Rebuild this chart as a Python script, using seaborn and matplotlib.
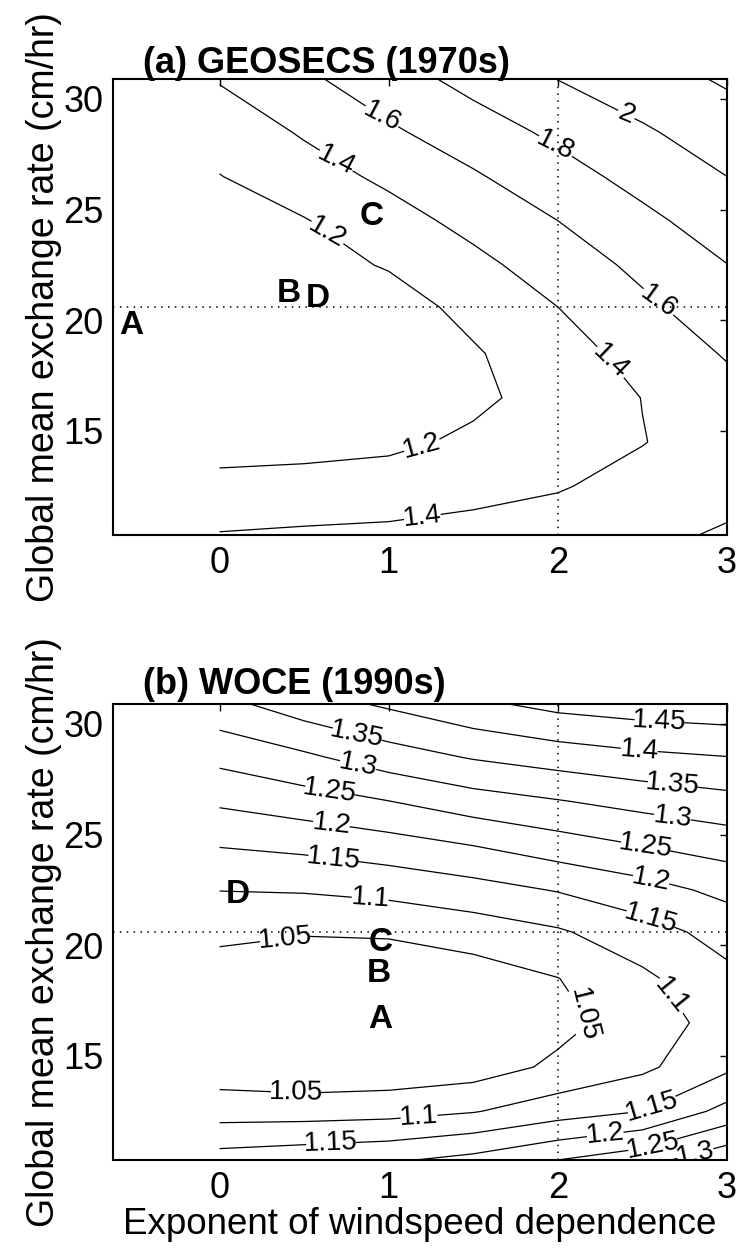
import numpy as np
import matplotlib
matplotlib.use("Agg")
import matplotlib.pyplot as plt
import seaborn as sns

# ---------------- data ----------------
exponent = [0.0, 0.5, 1.0, 1.5, 2.0, 2.5, 3.0]                 # x grid
exchange_rate = [10.3, 12.5, 14.5, 16.5, 18.5, 20.6, 22.5, 24.5, 26.5, 28.5, 31.0]  # y grid

# (a) GEOSECS ratio, one row per exchange rate
geosecs_103 = [1.41, 1.428, 1.44, 1.46, 1.471, 1.56, 1.62]
geosecs_125 = [1.26, 1.273, 1.294, 1.344, 1.389, 1.45, 1.542]
geosecs_145 = [1.115, 1.13, 1.157, 1.237, 1.316, 1.395, 1.475]
geosecs_165 = [1.06, 1.07, 1.10, 1.159, 1.28, 1.403, 1.53]
geosecs_185 = [1.05, 1.065, 1.10, 1.18, 1.321, 1.466, 1.617]
geosecs_206 = [1.06, 1.08, 1.115, 1.257, 1.40, 1.561, 1.712]
geosecs_225 = [1.08, 1.13, 1.215, 1.349, 1.494, 1.646, 1.797]
geosecs_245 = [1.12, 1.19, 1.323, 1.459, 1.60, 1.754, 1.898]
geosecs_265 = [1.195, 1.315, 1.44, 1.578, 1.724, 1.865, 2.0]
geosecs_285 = [1.28, 1.42, 1.57, 1.705, 1.84, 1.975, 2.10]
geosecs_310 = [1.42, 1.57, 1.72, 1.87, 2.01, 2.12, 2.23]

# (b) WOCE ratio, one row per exchange rate
woce_103 = [1.172, 1.183, 1.193, 1.215, 1.25, 1.281, 1.337]
woce_125 = [1.078, 1.078, 1.0825, 1.097, 1.127, 1.15, 1.216]
woce_145 = [1.021, 1.01, 1.014, 1.025, 1.06, 1.09, 1.14]
woce_165 = [1.015, 1.005, 1.005, 1.01, 1.035, 1.075, 1.12]
woce_185 = [1.022, 1.01, 1.01, 1.025, 1.049, 1.09, 1.138]
woce_206 = [1.063, 1.054, 1.057, 1.073, 1.094, 1.13, 1.168]
woce_225 = [1.101, 1.104, 1.114, 1.131, 1.153, 1.18, 1.2135]
woce_245 = [1.152, 1.162, 1.179, 1.20, 1.227, 1.25, 1.271]
woce_265 = [1.208, 1.228, 1.249, 1.278, 1.297, 1.317, 1.334]
woce_285 = [1.264, 1.291, 1.327, 1.354, 1.373, 1.389, 1.399]
woce_310 = [1.338, 1.381, 1.411, 1.443, 1.469, 1.481, 1.487]

geosecs_levels = [1.2, 1.4, 1.6, 1.8, 2.0, 2.2]
woce_levels = [1.05, 1.10, 1.15, 1.20, 1.25, 1.30, 1.35, 1.40, 1.45]

# reference lines
ref_exponent = 2.0
ref_rate = 20.6

# lettered points
letters = ["A", "B", "C", "D"]
geosecs_letter_x = [-0.525, 0.41, 0.90, 0.578]
geosecs_letter_y = [19.78, 21.21, 24.68, 20.98]
woce_letter_x = [0.95, 0.94, 0.95, 0.11]
woce_letter_y = [16.66, 18.72, 20.12, 22.31]

titles = ["(a) GEOSECS (1970s)", "(b) WOCE (1990s)"]
x_ticks = [0, 1, 2, 3]
y_ticks = [15, 20, 25, 30]

# contour label placement (near these points)
geosecs_label_pos = [(0.95, 29.04), (1.98, 27.76), (2.40, 29.19), (0.69, 27.23),
                     (0.63, 23.84), (2.60, 20.9), (2.32, 18.19), (1.20, 14.2),
                     (1.20, 11.04)]
woce_label_pos = [(2.60, 30.06), (2.48, 28.70), (0.81, 29.38), (2.68, 27.33),
                  (0.81, 27.7), (2.68, 25.98), (0.65, 26.82), (2.52, 24.53),
                  (0.66, 25.39), (2.55, 22.9), (0.67, 23.81), (2.55, 21.25),
                  (0.89, 22.08), (0.386, 20.27), (2.15, 16.8), (2.68, 17.79),
                  (0.45, 13.27), (1.18, 12.14), (0.66, 10.93), (2.55, 12.89),
                  (2.28, 11.46), (2.56, 11.0), (2.81, 10.7)]

# ---------------- style ----------------
sns.set_theme(style="white", rc={
    "axes.edgecolor": "black",
    "axes.linewidth": 1.5,
    "xtick.direction": "in",
    "ytick.direction": "in",
    "xtick.top": True,
    "ytick.right": True,
    "xtick.major.size": 5,
    "ytick.major.size": 5,
    "xtick.major.width": 1.0,
    "ytick.major.width": 1.0,
    "xtick.color": "black",
    "ytick.color": "black",
    "text.color": "black",
    "axes.labelcolor": "black",
})
plt.rcParams["font.family"] = ["Liberation Sans", "DejaVu Sans"]

fig = plt.figure(figsize=(7.4, 12.5), dpi=100)
ax_a = fig.add_axes([113 / 740, 1 - 535 / 1250, 614 / 740, 456 / 1250])
ax_b = fig.add_axes([113 / 740, 1 - 1160 / 1250, 614 / 740, 456 / 1250])

X, Y = np.meshgrid(exponent, exchange_rate)
Z_a = np.array([geosecs_103, geosecs_125, geosecs_145, geosecs_165, geosecs_185,
                geosecs_206, geosecs_225, geosecs_245, geosecs_265, geosecs_285,
                geosecs_310])
Z_b = np.array([woce_103, woce_125, woce_145, woce_165, woce_185, woce_206,
                woce_225, woce_245, woce_265, woce_285, woce_310])

fmt = lambda v: f"{v:g}"

panels = [
    (ax_a, Z_a, geosecs_levels, geosecs_label_pos, geosecs_letter_x, geosecs_letter_y, titles[0], 1.013),
    (ax_b, Z_b, woce_levels, woce_label_pos, woce_letter_x, woce_letter_y, titles[1], 1.022),
]

for ax, Z, levels, lpos, lx, ly, title, ty in panels:
    cs = ax.contour(X, Y, Z, levels=levels, colors="black", linewidths=0.9)
    ax.clabel(cs, manual=lpos, fmt=fmt, fontsize=20, inline=True, inline_spacing=3)
    ax.axvline(ref_exponent, color="black", lw=1.1, ls=(0, (1, 3.5)))
    ax.axhline(ref_rate, color="black", lw=1.1, ls=(0, (1, 3.5)))
    for t, x, y in zip(letters, lx, ly):
        ax.text(x, y, t, fontsize=24, fontweight="bold", ha="center", va="center")
    ax.set_xlim(-0.63, 3.0)
    ax.set_ylim(10.3, 30.9)
    ax.set_xticks(x_ticks)
    ax.set_yticks(y_ticks)
    ax.tick_params(axis="both", labelsize=26)
    ax.tick_params(axis="x", pad=8)
    ax.tick_params(axis="y", pad=7)
    ax.set_ylabel("Global mean exchange rate (cm/hr)", fontsize=27)
    ax.yaxis.set_label_coords(-0.083, 0.5)
    ax.text(0.049, ty, title, transform=ax.transAxes, fontsize=26,
            fontweight="bold", ha="left", va="baseline")
    for s in ax.spines.values():
        s.set_visible(True)

ax_b.set_xlabel("Exponent of windspeed dependence", fontsize=26.5)
ax_b.xaxis.set_label_coords(0.5, -0.104)

fig.savefig("out.png", dpi=100)
